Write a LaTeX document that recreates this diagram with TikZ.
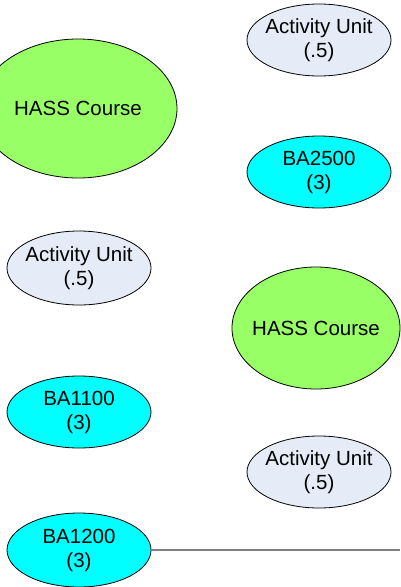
\documentclass[tikz,border=0pt]{standalone}
\usepackage{fontspec}
\setmainfont{Liberation Sans}
\usetikzlibrary{shapes.geometric}
\definecolor{hassgreen}{HTML}{99FF66}
\definecolor{aublue}{HTML}{E6ECF7}
\definecolor{bacyan}{HTML}{00FFFF}
\tikzset{
  oval/.style={ellipse, draw=black, line width=0.8pt, inner xsep=-15pt, inner ysep=0pt, align=center,
    font=\fontsize{20.5}{24}\selectfont, text=black},
  hass/.style={oval, fill=hassgreen},
  actunit/.style={oval, fill=aublue, minimum width=144pt, minimum height=72pt},
  bacourse/.style={oval, fill=bacyan, minimum width=144pt, minimum height=72pt},
  link/.style={draw=black!50, line width=1.5pt}
}
\begin{document}
\begin{tikzpicture}[x=1pt, y=-1pt]
\useasboundingbox (0,0) rectangle (400,587);
\node[hass, minimum width=198pt, minimum height=139pt] (hassA) at (78,108.5) {HASS Course};
\node[actunit] (auA) at (319,40) {Activity Unit\\(.5)};
\node[bacourse] (baB) at (319,172) {BA2500\\(3)};
\node[actunit, minimum height=74pt] (auB) at (79,268) {Activity Unit\\(.5)};
\node[hass, minimum width=168pt, minimum height=122pt] (hassB) at (316,328) {HASS Course};
\node[bacourse] (baA) at (79,412) {BA1100\\(3)};
\node[actunit] (auC) at (319,472) {Activity Unit\\(.5)};
\node[bacourse, minimum height=74pt] (baC) at (79,550) {BA1200\\(3)};
\coordinate (lineEnd) at (400,550);
\draw[link] (baC.east) -- (lineEnd);
\end{tikzpicture}
\end{document}
